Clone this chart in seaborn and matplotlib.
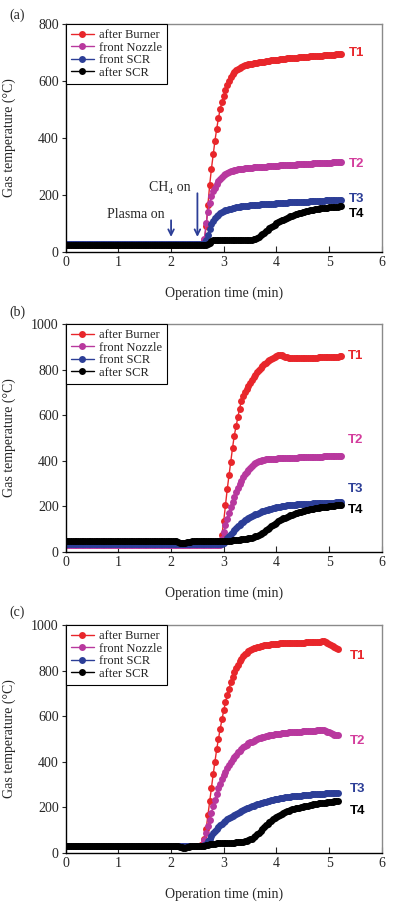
import numpy as np
import matplotlib
matplotlib.use('Agg')
import matplotlib.pyplot as plt
import seaborn as sns

# logger interval: one reading every 2 s
SAMPLE_MIN = 2 / 60

series_names = ['after Burner', 'front Nozzle', 'front SCR', 'after SCR']
tag_names = ['T1', 'T2', 'T3', 'T4']
line_colors = ['#e8262b', '#b8389e', '#2c3e97', '#000000']
tag_colors = ['#e8262b', '#d33c9c', '#2c3e97', '#000000']

# ---------------- (a) ----------------
burner_a = [
    25, 25, 25, 25, 25, 25, 25, 25, 25, 25, 25, 25, 25, 25, 25,
    25, 25, 25, 25, 25, 25, 25, 25, 25, 25, 25, 25, 25, 25, 25,
    25, 25, 25, 25, 25, 25, 25, 25, 25, 25, 25, 25, 25, 25, 25,
    25, 25, 25, 25, 25, 25, 25, 25, 25, 25, 25, 25, 25, 25, 25,
    25, 25, 25, 25, 25, 25, 25, 25, 25, 25, 25, 25, 25, 25, 25,
    25, 25, 26, 28, 40, 90, 165, 235, 292, 342, 390, 432, 470, 502, 527,
    548, 568, 585, 600, 612, 623, 632, 638, 643, 647, 650, 653, 655, 657, 659,
    660, 661, 662, 663, 664, 665, 666, 667, 668, 669, 670, 671, 672, 673, 674,
    675, 675, 676, 677, 677, 678, 679, 679, 680, 681, 681, 682, 682, 683, 683,
    684, 684, 685, 685, 686, 686, 687, 687, 688, 688, 689, 689, 690, 690, 690,
    691, 691, 692, 692, 693, 693, 694, 694,
]
nozzle_a = [
    27, 27, 27, 27, 27, 27, 27, 27, 27, 27, 27, 27, 27, 27, 27,
    27, 27, 27, 27, 27, 27, 27, 27, 27, 27, 27, 27, 27, 27, 27,
    27, 27, 27, 27, 27, 27, 27, 27, 27, 27, 27, 27, 27, 27, 27,
    27, 27, 27, 27, 27, 27, 27, 27, 27, 27, 27, 27, 27, 27, 27,
    27, 27, 27, 27, 27, 27, 27, 27, 27, 27, 27, 27, 27, 27, 27,
    27, 27, 27, 28, 45, 100, 140, 170, 195, 212, 225, 237, 247, 255, 262,
    268, 272, 276, 279, 282, 284, 286, 288, 289, 290, 291, 292, 293, 294, 294,
    295, 295, 296, 296, 297, 297, 298, 298, 299, 299, 300, 300, 301, 301, 302,
    302, 302, 303, 303, 304, 304, 305, 305, 305, 306, 306, 306, 307, 307, 307,
    308, 308, 308, 309, 309, 309, 310, 310, 310, 311, 311, 311, 312, 312, 312,
    313, 313, 314, 314, 315, 315, 316, 316,
]
scr_front_a = [
    27, 27, 27, 27, 27, 27, 27, 27, 27, 27, 27, 27, 27, 27, 27,
    27, 27, 27, 27, 27, 27, 27, 27, 27, 27, 27, 27, 27, 27, 27,
    27, 27, 27, 27, 27, 27, 27, 27, 27, 27, 27, 27, 27, 27, 27,
    27, 27, 27, 27, 27, 27, 27, 27, 27, 27, 27, 27, 27, 27, 27,
    27, 27, 27, 27, 27, 27, 27, 27, 27, 27, 27, 27, 27, 27, 27,
    27, 27, 27, 27, 30, 40, 60, 80, 96, 108, 117, 124, 130, 135, 139,
    142, 145, 147, 149, 151, 153, 154, 156, 157, 158, 159, 160, 161, 162, 162,
    163, 163, 164, 164, 165, 165, 166, 166, 167, 167, 168, 168, 168, 169, 169,
    170, 170, 171, 171, 171, 172, 172, 173, 173, 173, 174, 174, 174, 175, 175,
    175, 176, 176, 176, 177, 177, 177, 178, 178, 178, 179, 179, 179, 180, 180,
    180, 180, 181, 181, 181, 181, 182, 182,
]
scr_after_a = [
    23, 23, 23, 23, 23, 23, 23, 23, 23, 23, 23, 23, 23, 23, 23,
    23, 23, 23, 23, 23, 23, 23, 23, 23, 23, 23, 23, 23, 23, 23,
    23, 23, 23, 23, 23, 23, 23, 23, 23, 23, 23, 23, 23, 23, 23,
    23, 23, 23, 23, 23, 23, 23, 23, 23, 23, 23, 23, 23, 23, 23,
    23, 23, 23, 23, 23, 23, 23, 23, 23, 23, 23, 23, 23, 23, 23,
    23, 23, 23, 23, 23, 24, 26, 32, 38, 40, 40, 40, 40, 40, 40,
    40, 40, 40, 40, 40, 40, 40, 40, 40, 40, 40, 40, 40, 41, 41,
    41, 42, 43, 45, 48, 52, 57, 62, 67, 72, 77, 82, 87, 91, 95,
    99, 103, 107, 110, 113, 116, 119, 122, 125, 127, 129, 131, 133, 135, 137,
    139, 140, 142, 143, 145, 146, 147, 149, 150, 151, 152, 153, 154, 154, 155,
    156, 156, 157, 157, 158, 158, 159, 159,
]

# ---------------- (b) ----------------
burner_b = [
    40, 40, 40, 40, 40, 40, 40, 40, 40, 40, 40, 40, 40, 40, 40,
    40, 40, 40, 40, 40, 40, 40, 40, 40, 40, 40, 40, 40, 40, 40,
    40, 40, 40, 40, 40, 40, 40, 40, 40, 40, 40, 40, 40, 40, 40,
    40, 40, 40, 40, 40, 40, 40, 40, 40, 40, 40, 40, 40, 40, 40,
    40, 40, 40, 40, 40, 40, 40, 40, 40, 40, 40, 40, 40, 40, 40,
    40, 40, 40, 40, 40, 40, 40, 40, 40, 40, 40, 40, 40, 40, 75,
    135, 205, 275, 335, 395, 455, 510, 550, 590, 628, 660, 685, 700, 715, 728,
    742, 755, 766, 777, 787, 797, 806, 815, 823, 830, 836, 842, 847, 852, 856,
    860, 863, 865, 864, 861, 857, 854, 852, 851, 850, 849, 849, 849, 849, 849,
    850, 850, 850, 851, 851, 851, 852, 852, 852, 853, 853, 853, 854, 854, 854,
    855, 855, 856, 856, 857, 857, 858, 858,
]
nozzle_b = [
    28, 28, 28, 28, 28, 28, 28, 28, 28, 28, 28, 28, 28, 28, 28,
    28, 28, 28, 28, 28, 28, 28, 28, 28, 28, 28, 28, 28, 28, 28,
    28, 28, 28, 28, 28, 28, 28, 28, 28, 28, 28, 28, 28, 28, 28,
    28, 28, 28, 28, 28, 28, 28, 28, 28, 28, 28, 28, 28, 28, 28,
    28, 28, 28, 28, 28, 28, 28, 28, 28, 28, 28, 28, 28, 28, 28,
    28, 28, 28, 28, 28, 28, 28, 28, 28, 28, 28, 28, 28, 28, 55,
    85, 115, 145, 172, 197, 220, 242, 262, 280, 297, 312, 326, 339, 350, 360,
    369, 377, 384, 389, 394, 397, 400, 402, 404, 405, 406, 407, 408, 408, 409,
    409, 410, 410, 411, 411, 411, 412, 412, 412, 413, 413, 413, 413, 414, 414,
    414, 414, 415, 415, 415, 416, 416, 416, 416, 417, 417, 417, 418, 418, 418,
    418, 419, 419, 419, 420, 420, 420, 421,
]
scr_front_b = [
    35, 35, 35, 35, 35, 35, 35, 35, 35, 35, 35, 35, 35, 35, 35,
    35, 35, 35, 35, 35, 35, 35, 35, 35, 35, 35, 35, 35, 35, 35,
    35, 35, 35, 35, 35, 35, 35, 35, 35, 35, 35, 35, 35, 35, 35,
    35, 35, 35, 35, 35, 35, 35, 35, 35, 35, 35, 35, 35, 35, 35,
    35, 35, 35, 35, 35, 35, 35, 35, 35, 35, 35, 35, 35, 35, 35,
    35, 35, 35, 35, 35, 35, 35, 35, 35, 35, 35, 35, 35, 35, 35,
    40, 48, 58, 68, 77, 86, 95, 103, 111, 118, 125, 131, 137, 142, 147,
    152, 156, 160, 164, 167, 171, 174, 177, 180, 182, 185, 187, 189, 191, 193,
    195, 197, 198, 200, 201, 202, 203, 204, 205, 206, 207, 207, 208, 208, 209,
    209, 210, 210, 211, 211, 211, 212, 212, 212, 213, 213, 213, 214, 214, 214,
    214, 215, 215, 215, 216, 216, 216, 216,
]
scr_after_b = [
    46, 46, 46, 46, 46, 46, 46, 46, 46, 46, 46, 46, 46, 46, 46,
    46, 46, 46, 46, 46, 46, 46, 46, 46, 46, 46, 46, 46, 46, 46,
    46, 46, 46, 46, 46, 46, 46, 46, 46, 46, 46, 46, 46, 46, 46,
    46, 46, 46, 46, 46, 46, 46, 46, 46, 46, 46, 46, 46, 46, 46,
    46, 46, 45, 45, 43, 40, 38, 38, 39, 41, 43, 44, 45, 45, 45,
    45, 45, 46, 46, 46, 46, 46, 46, 46, 47, 47, 47, 47, 47, 47,
    47, 48, 48, 49, 49, 50, 50, 51, 52, 53, 54, 55, 56, 57, 58,
    60, 62, 64, 67, 70, 74, 78, 83, 88, 94, 100, 106, 112, 118, 123,
    128, 133, 138, 142, 146, 150, 154, 157, 160, 163, 166, 169, 172, 174, 176,
    178, 180, 182, 184, 186, 187, 189, 190, 192, 193, 194, 195, 196, 197, 198,
    199, 200, 201, 202, 203, 204, 204, 205,
]

# ---------------- (c) ----------------
burner_c = [
    30, 30, 30, 30, 30, 30, 30, 30, 30, 30, 30, 30, 30, 30, 30,
    30, 30, 30, 30, 30, 30, 30, 30, 30, 30, 30, 30, 30, 30, 30,
    30, 30, 30, 30, 30, 30, 30, 30, 30, 30, 30, 30, 30, 30, 30,
    30, 30, 30, 30, 30, 30, 30, 30, 30, 30, 30, 30, 30, 30, 30,
    30, 30, 30, 30, 30, 30, 30, 30, 30, 30, 30, 30, 30, 30, 30,
    30, 30, 32, 40, 60, 105, 165, 225, 285, 345, 400, 455, 500, 545, 585,
    625, 660, 692, 720, 748, 772, 793, 811, 826, 840, 852, 862, 871, 878, 884,
    889, 893, 897, 900, 903, 905, 907, 909, 911, 912, 913, 914, 915, 916, 917,
    918, 918, 919, 919, 920, 920, 921, 921, 921, 922, 922, 922, 922, 923, 923,
    923, 923, 924, 924, 924, 925, 925, 925, 926, 926, 927, 928, 928, 926, 922,
    917, 912, 907, 902, 898, 895,
]
nozzle_c = [
    30, 30, 30, 30, 30, 30, 30, 30, 30, 30, 30, 30, 30, 30, 30,
    30, 30, 30, 30, 30, 30, 30, 30, 30, 30, 30, 30, 30, 30, 30,
    30, 30, 30, 30, 30, 30, 30, 30, 30, 30, 30, 30, 30, 30, 30,
    30, 30, 30, 30, 30, 30, 30, 30, 30, 30, 30, 30, 30, 30, 30,
    30, 30, 30, 30, 30, 30, 30, 30, 30, 30, 30, 30, 30, 30, 30,
    30, 30, 31, 35, 55, 85, 115, 145, 175, 205, 232, 258, 282, 303, 322,
    340, 356, 371, 385, 398, 410, 421, 431, 440, 448, 456, 463, 469, 475, 480,
    484, 488, 492, 496, 499, 502, 505, 507, 509, 511, 513, 515, 517, 518, 520,
    521, 522, 523, 524, 525, 526, 527, 528, 528, 529, 530, 530, 531, 532, 532,
    533, 533, 534, 534, 535, 535, 536, 536, 537, 537, 538, 538, 537, 535, 532,
    528, 525, 522, 519, 517, 515,
]
scr_front_c = [
    30, 30, 30, 30, 30, 30, 30, 30, 30, 30, 30, 30, 30, 30, 30,
    30, 30, 30, 30, 30, 30, 30, 30, 30, 30, 30, 30, 30, 30, 30,
    30, 30, 30, 30, 30, 30, 30, 30, 30, 30, 30, 30, 30, 30, 30,
    30, 30, 30, 30, 30, 30, 30, 30, 30, 30, 30, 30, 30, 30, 30,
    30, 30, 30, 30, 30, 30, 30, 30, 30, 30, 30, 30, 30, 30, 30,
    30, 30, 30, 30, 32, 38, 50, 62, 74, 85, 95, 104, 112, 120, 127,
    134, 140, 146, 152, 157, 162, 167, 172, 176, 180, 184, 188, 191, 195, 198,
    201, 204, 207, 210, 212, 215, 217, 220, 222, 224, 226, 228, 230, 232, 234,
    236, 237, 239, 240, 241, 243, 244, 245, 246, 247, 248, 249, 250, 251, 251,
    252, 253, 254, 254, 255, 256, 256, 257, 257, 258, 258, 259, 259, 260, 260,
    261, 261, 262, 262, 262, 263,
]
scr_after_c = [
    30, 30, 30, 30, 30, 30, 30, 30, 30, 30, 30, 30, 30, 30, 30,
    30, 30, 30, 30, 30, 30, 30, 30, 30, 30, 30, 30, 30, 30, 30,
    30, 30, 30, 30, 30, 30, 30, 30, 30, 30, 30, 30, 30, 30, 30,
    30, 30, 30, 30, 30, 30, 30, 30, 30, 30, 30, 30, 30, 30, 30,
    30, 30, 30, 30, 30, 26, 23, 22, 22, 23, 26, 28, 29, 30, 30,
    30, 30, 30, 31, 31, 32, 34, 37, 39, 40, 40, 41, 41, 41, 42,
    42, 42, 43, 43, 43, 44, 44, 45, 46, 47, 48, 49, 51, 53, 55,
    58, 62, 67, 73, 80, 88, 96, 104, 112, 120, 127, 134, 141, 147, 153,
    158, 163, 167, 171, 175, 178, 181, 184, 187, 190, 192, 194, 196, 198, 200,
    202, 204, 206, 207, 209, 210, 212, 213, 214, 216, 217, 218, 219, 220, 221,
    222, 223, 224, 225, 226, 227,
]

# end-of-curve tags (T1..T4) per panel
tag_y_a = [698, 308, 185, 131]
tag_y_b = [861, 490, 274, 183]
tag_y_c = [865, 492, 278, 183]

sns.set_style('ticks')
plt.rcParams['font.family'] = ['Liberation Serif', 'DejaVu Serif']
plt.rcParams['font.size'] = 10


def draw_panel(ax, series, ymax, tag_y, tag_x):
    for name, vals, col in zip(series_names, series, line_colors):
        t = np.arange(len(vals)) * SAMPLE_MIN
        sns.lineplot(x=t, y=vals, ax=ax, color=col, estimator=None,
                     marker='o', markersize=5.0, markeredgewidth=0,
                     linewidth=1.0, label=name)

    ax.set_xlim(0, 6)
    ax.set_ylim(0, ymax)
    ax.set_xticks(range(0, 7))
    ax.set_yticks(range(0, ymax + 1, 200))
    ax.set_xlabel('Operation time (min)', fontsize=10)
    ax.set_ylabel('Gas temperature (°C)', fontsize=10)
    ax.xaxis.set_label_coords(0.5, -0.153)
    ax.yaxis.set_label_coords(-0.157, 0.5)
    ax.tick_params(axis='x', direction='in', length=4, width=0.8, labelsize=10, pad=3)
    ax.tick_params(axis='y', direction='out', length=3, width=0.8, labelsize=10, pad=2)

    for side in ['left', 'bottom']:
        ax.spines[side].set_color('black')
        ax.spines[side].set_linewidth(1.0)
    for side in ['top', 'right']:
        ax.spines[side].set_color('#8a8a8a')
        ax.spines[side].set_linewidth(1.0)

    leg = ax.legend(loc='upper left', bbox_to_anchor=(0, 1), borderaxespad=0,
                    frameon=True, fancybox=False, framealpha=1, edgecolor='black',
                    fontsize=9, handlelength=1.85, handletextpad=0.4,
                    labelspacing=0.05, borderpad=0.4)
    leg.get_frame().set_linewidth(0.8)

    for name, y, col in zip(tag_names, tag_y, tag_colors):
        ax.text(tag_x, y, name, color=col, fontsize=9.5, fontweight='bold',
                family=['Liberation Sans', 'DejaVu Sans'], ha='left', va='center')


fig = plt.figure(figsize=(3.96, 9.02), dpi=100)
ax_a = fig.add_axes([0.166, 0.721, 0.798, 0.2524])
ax_b = fig.add_axes([0.166, 0.3884, 0.798, 0.2524])
ax_c = fig.add_axes([0.166, 0.0547, 0.798, 0.2524])

draw_panel(ax_a, [burner_a, nozzle_a, scr_front_a, scr_after_a], 800, tag_y_a, 5.38)
draw_panel(ax_b, [burner_b, nozzle_b, scr_front_b, scr_after_b], 1000, tag_y_b, 5.36)
draw_panel(ax_c, [burner_c, nozzle_c, scr_front_c, scr_after_c], 1000, tag_y_c, 5.40)

# event markers in (a)
arrow_col = '#2c3e97'
ax_a.annotate('', xy=(2.0, 42), xytext=(2.0, 120),
              arrowprops=dict(arrowstyle='->', color=arrow_col, lw=1.3))
ax_a.annotate('', xy=(2.5, 42), xytext=(2.5, 215),
              arrowprops=dict(arrowstyle='->', color=arrow_col, lw=1.3))
ax_a.text(1.34, 129, 'Plasma on', fontsize=10, ha='center', va='center')
ax_a.text(1.98, 227, 'CH₄ on', fontsize=10, ha='center', va='center')

fig.text(17 / 396, 1 - 15 / 902, '(a)', fontsize=10, ha='center', va='center')
fig.text(17 / 396, 1 - 312 / 902, '(b)', fontsize=10, ha='center', va='center')
fig.text(17 / 396, 1 - 612 / 902, '(c)', fontsize=10, ha='center', va='center')

fig.savefig('out.png', dpi=100)
